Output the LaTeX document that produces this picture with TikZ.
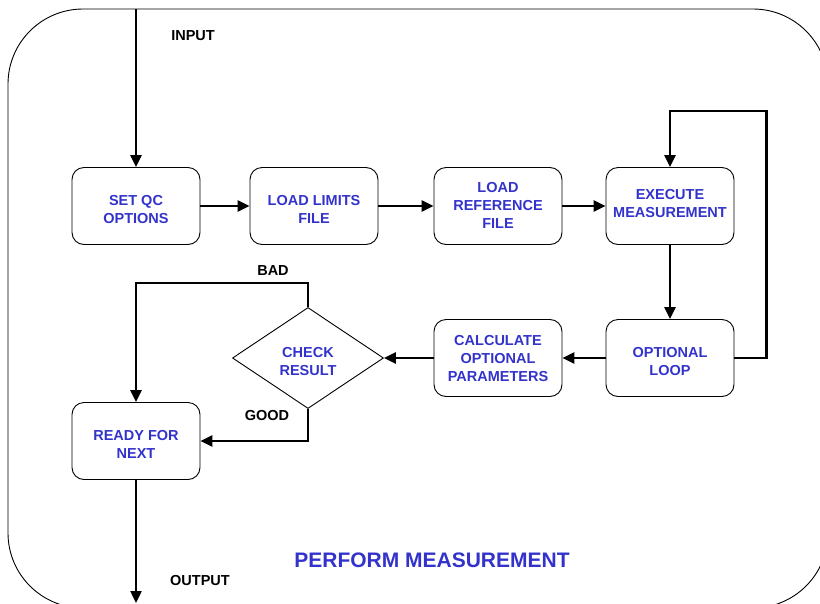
\documentclass[tikz,border=0pt]{standalone}
\usepackage{fontspec}
\setmainfont{Liberation Sans}
\usetikzlibrary{arrows.meta,shapes.geometric}
\definecolor{txtblue}{RGB}{51,51,204}
% #1 = how far the text sits below the centre of its box
\newcommand{\boxtxt}[2][5pt]{\raisebox{0pt}[\dimexpr\height+2\dimexpr#1\relax\relax][\depth]{\begin{tabular}{@{}c@{}}#2\end{tabular}}}
\tikzset{
  stepbox/.style={draw, line width=0.9pt, rounded corners=12pt, minimum width=128pt, minimum height=77pt, text=txtblue, font=\fontsize{14.5}{18}\selectfont\bfseries, inner sep=0pt},
  decide/.style={draw, line width=0.9pt, diamond, aspect=1.5, minimum width=151pt, minimum height=101pt, text=txtblue, font=\fontsize{14.5}{18}\selectfont\bfseries, inner sep=0pt},
  conn/.style={line width=2.4pt, -{Triangle[length=12pt,width=11pt]}},
  lbl/.style={font=\fontsize{14.5}{17}\selectfont\bfseries, text=black},
}
\begin{document}
\begin{tikzpicture}[x=1pt,y=-1pt]
\useasboundingbox (0,0) rectangle (820,603);
\begin{scope}
\clip (0,0) rectangle (820,603);
\draw[line width=0.9pt, rounded corners=75pt] (8,9) rectangle (828,608);
\node[stepbox] (setqc) at (136,206) {\boxtxt{SET QC\\OPTIONS}};
\node[stepbox] (limits) at (314,206) {\boxtxt{LOAD LIMITS\\FILE}};
\node[stepbox] (ref) at (498,206) {\boxtxt[1pt]{LOAD\\REFERENCE\\FILE}};
\node[stepbox] (exec) at (670,206) {\boxtxt[-1.5pt]{EXECUTE\\MEASUREMENT}};
\node[stepbox] (loop) at (670,358) {\boxtxt{OPTIONAL\\LOOP}};
\node[stepbox] (calc) at (498,358) {\boxtxt[2pt]{CALCULATE\\OPTIONAL\\PARAMETERS}};
\node[decide] (check) at (308,358) {\boxtxt{CHECK\\RESULT}};
\node[stepbox] (ready) at (136,441) {\boxtxt{READY FOR\\NEXT}};
\coordinate (in) at (136,9);
\coordinate (out) at (136,603);
\draw[conn] (in) -- (setqc.north);
\draw[conn] (setqc) -- (limits);
\draw[conn] (limits) -- (ref);
\draw[conn] (ref) -- (exec);
\draw[conn] (exec) -- (loop);
\draw[conn] (loop.east) -- ++(32,0) |- (670,111) -- (exec.north);
\draw[conn] (loop) -- (calc);
\draw[conn] (calc) -- (check.east);
\draw[conn] (check.north) |- (136,283) -- (ready.north);
\draw[conn] (check.south) |- (ready.east);
\draw[conn] (ready.south) -- (out);
\node[lbl] (inlbl) at (193,36) {INPUT};
\node[lbl] (badlbl) at (273,271) {BAD};
\node[lbl] (goodlbl) at (267,416) {GOOD};
\node[lbl] (outlbl) at (200,581) {OUTPUT};
\node[font=\fontsize{21}{24}\selectfont\bfseries, text=txtblue] (title) at (432,560) {PERFORM MEASUREMENT};
\end{scope}
\end{tikzpicture}
\end{document}
